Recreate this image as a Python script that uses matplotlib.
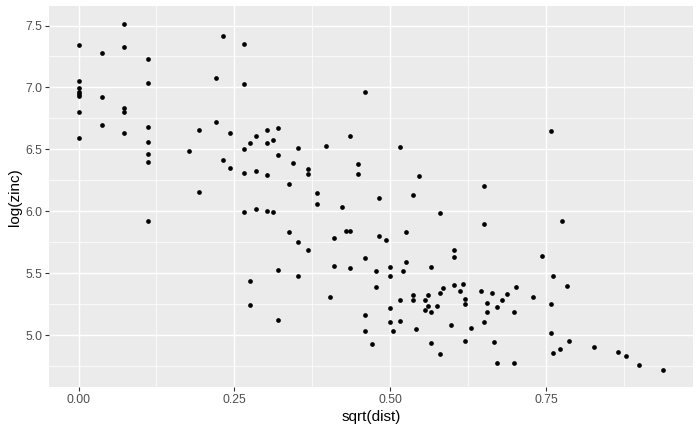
import numpy as np
import matplotlib
matplotlib.use("Agg")
import matplotlib.pyplot as plt

# sqrt(dist) vs log(zinc)
sqrt_dist = [
    0.0, 0.0, 0.0, 0.0, 0.0, 0.0, 0.0, 0.0,
    0.0369, 0.0369, 0.0369,
    0.0737, 0.0737, 0.0737, 0.0737, 0.0737,
    0.1106, 0.1106, 0.1106, 0.1106, 0.1106, 0.1106, 0.1106,
    0.1779, 0.1939, 0.1939, 0.2196, 0.2196, 0.2324, 0.2324,
    0.2436, 0.2436, 0.266, 0.266, 0.266, 0.266, 0.266,
    0.2756, 0.2756, 0.2756, 0.2853, 0.2853, 0.2853,
    0.3029, 0.3029, 0.3029, 0.3029, 0.3125, 0.3125,
    0.3205, 0.3205, 0.3205, 0.3205, 0.3381, 0.3381, 0.3446,
    0.3526, 0.3526, 0.3526, 0.3686, 0.3686, 0.3686,
    0.383, 0.383, 0.3974, 0.4038, 0.4103, 0.4103, 0.4231, 0.4295,
    0.4359, 0.4359, 0.4359, 0.4487, 0.4487,
    0.46, 0.46, 0.46, 0.46, 0.4712, 0.4776, 0.4776, 0.4824, 0.4824, 0.4936,
    0.5, 0.5, 0.5, 0.5, 0.5048, 0.516, 0.516, 0.516, 0.5208, 0.5256, 0.5256,
    0.5369, 0.5369, 0.5369, 0.5417, 0.5465, 0.5561, 0.5561, 0.5609, 0.5609,
    0.5657, 0.5657, 0.5657, 0.5753, 0.5801, 0.5801, 0.5801, 0.585, 0.5978,
    0.6026, 0.6026, 0.6026, 0.6122, 0.617, 0.6202, 0.6202, 0.6202, 0.6298,
    0.6458, 0.6506, 0.6506, 0.6506, 0.6554, 0.6554, 0.6635, 0.6667,
    0.6715, 0.6715, 0.6795, 0.6875, 0.6987, 0.6987, 0.7019, 0.7292, 0.7436,
    0.758, 0.758, 0.758, 0.7612, 0.7612, 0.7724, 0.7756, 0.7837, 0.7869,
    0.8269, 0.8654, 0.8782, 0.899, 0.9375,
]
log_zinc = [
    7.344, 7.054, 6.998, 6.964, 6.948, 6.931, 6.804, 6.594,
    7.280, 6.925, 6.699,
    7.514, 7.328, 6.836, 6.804, 6.635,
    7.231, 7.038, 6.683, 6.562, 6.465, 6.401, 5.925,
    6.490, 6.659, 6.159, 7.078, 6.723, 7.417, 6.417,
    6.635, 6.352, 7.352, 7.030, 6.506, 6.312, 5.998,
    6.554, 5.441, 5.248, 6.610, 6.328, 6.022,
    6.659, 6.554, 6.296, 6.006, 6.578, 5.998,
    6.675, 6.457, 5.530, 5.127, 6.223, 5.836, 6.393,
    6.514, 5.756, 5.481, 6.344, 6.304, 5.691,
    6.151, 6.062, 6.530, 5.312, 5.788, 5.562, 6.038, 5.844,
    6.610, 5.844, 5.546, 6.385, 6.304,
    6.965, 5.627, 5.167, 5.038, 4.933, 5.522, 5.393, 6.110, 5.804, 5.772,
    5.554, 5.481, 5.223, 5.110, 5.038, 6.522, 5.288, 5.119, 5.522, 5.836, 5.594,
    6.135, 5.328, 5.288, 5.054, 6.288, 5.288, 5.207, 5.328, 5.240,
    5.554, 5.191, 4.941, 5.240, 5.990, 5.344, 4.852, 5.385, 5.086,
    5.691, 5.635, 5.409, 5.360, 5.417, 5.296, 5.256, 4.957, 5.062,
    5.360, 6.207, 5.901, 5.110, 5.264, 5.191, 5.344, 4.949,
    5.231, 4.780, 5.288, 5.336, 5.191, 4.780, 5.393, 5.312, 5.643,
    6.651, 5.256, 5.022, 5.481, 4.860, 4.893, 5.925, 5.401, 4.957,
    4.909, 4.869, 4.836, 4.764, 4.723,
]

x_ticks = [0.0, 0.25, 0.5, 0.75]
x_labels = ["0.00", "0.25", "0.50", "0.75"]
y_ticks = [5.0, 5.5, 6.0, 6.5, 7.0, 7.5]
y_labels = ["5.0", "5.5", "6.0", "6.5", "7.0", "7.5"]

plt.rcParams['font.family'] = ['Liberation Sans', 'DejaVu Sans']

x = np.array(sqrt_dist)
y = np.array(log_zinc)

fig = plt.figure(figsize=(7, 4.32), dpi=100)
ax = fig.add_axes([0.0704, 0.1042, 0.919, 0.8808])
ax.set_facecolor('#EBEBEB')
ax.set_axisbelow(True)

ax.scatter(x, y, s=11.5, c='black', linewidths=0, zorder=3)

# ggplot-like 5% expansion
dx = (x.max() - x.min()) * 0.05
dy = (y.max() - y.min()) * 0.05
ax.set_xlim(x.min() - dx, x.max() + dx)
ax.set_ylim(y.min() - dy, y.max() + dy)

ax.set_xticks(x_ticks)
ax.set_xticklabels(x_labels)
ax.set_yticks(y_ticks)
ax.set_yticklabels(y_labels)
ax.set_xticks([0.125, 0.375, 0.625, 0.875], minor=True)
ax.set_yticks([4.75, 5.25, 5.75, 6.25, 6.75, 7.25], minor=True)

ax.grid(which='major', color='white', linewidth=1.07)
ax.grid(which='minor', color='white', linewidth=0.53)
ax.tick_params(which='major', length=2.75, width=0.8, color='#333333',
               pad=2.2, labelsize=8.8, labelcolor='#4D4D4D')
ax.tick_params(which='minor', length=0)
for s in ax.spines.values():
    s.set_visible(False)

ax.set_xlabel('sqrt(dist)', fontsize=11, labelpad=2.75)
ax.set_ylabel('log(zinc)', fontsize=11, labelpad=2.75)

plt.savefig("out.png", dpi=100)
